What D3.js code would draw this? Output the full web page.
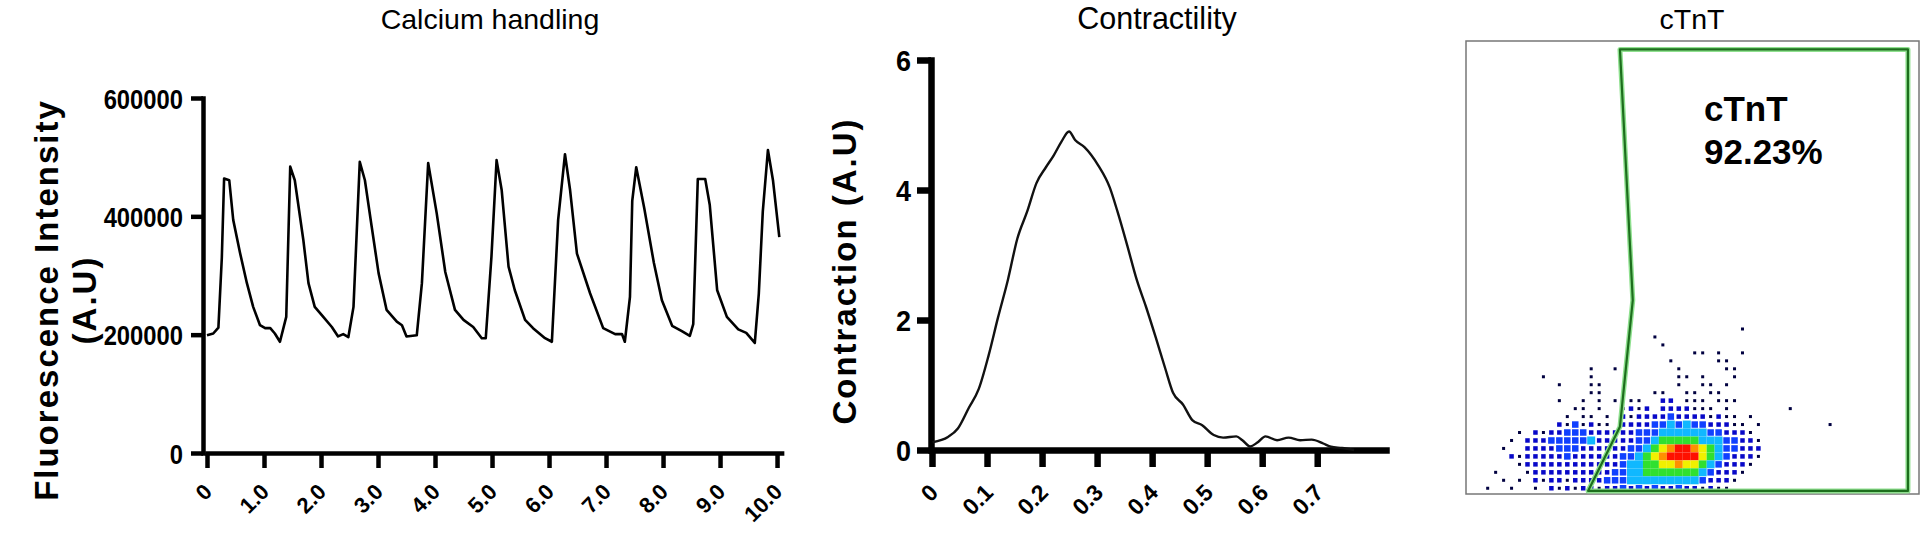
<!DOCTYPE html>
<html><head><meta charset="utf-8">
<script src="https://cdn.jsdelivr.net/npm/d3@7"></script>
<style>
body{margin:0;background:#fff;}
svg{display:block;}
text{font-family:"Liberation Sans",Arial,Helvetica,sans-serif;fill:#000;}
</style></head><body>
<svg id="c" width="1920" height="533"></svg>
<script>
// ---------------- DATA ----------------
const panelTitles = ["Calcium handling", "Contractility", "cTnT"];

// Calcium handling trace (time in s, fluorescence A.U)
const caTime = [0.00,0.11,0.20,0.26,0.30,0.39,0.46,0.58,0.70,0.81,0.93,1.02,1.11,1.19,1.28,1.39,1.46,1.54,1.69,1.78,1.89,2.04,2.19,2.30,2.39,2.48,2.57,2.68,2.77,2.89,3.01,3.15,3.33,3.42,3.50,3.68,3.77,3.88,4.03,4.18,4.35,4.50,4.67,4.82,4.89,4.99,5.08,5.17,5.29,5.40,5.58,5.72,5.93,6.05,6.16,6.28,6.37,6.49,6.72,6.95,7.16,7.28,7.33,7.42,7.46,7.53,7.67,7.84,7.98,8.16,8.33,8.47,8.53,8.61,8.74,8.82,8.95,9.12,9.32,9.46,9.61,9.68,9.75,9.84,9.93,10.04];
const caValue = [199000,202000,212000,330000,464000,461000,394000,338000,287000,247000,216000,211000,211000,202000,188000,230000,484000,461000,360000,287000,247000,230000,213000,197000,201000,196000,247000,492000,461000,382000,304000,242000,222000,216000,197000,199000,287000,490000,405000,306000,242000,225000,213000,194000,194000,332000,495000,444000,315000,275000,225000,211000,194000,188000,394000,505000,444000,337000,270000,211000,201000,201000,188000,264000,426000,483000,414000,321000,258000,215000,206000,198000,218000,463000,463000,419000,275000,230000,209000,203000,186000,269000,408000,512000,460000,365000];
const caXTicks = [0,1,2,3,4,5,6,7,8,9,10];
const caXTickLabels = ["0","1.0","2.0","3.0","4.0","5.0","6.0","7.0","8.0","9.0","10.0"];
const caYTicks = [0,200000,400000,600000];
const caYTitle = ["Fluorescence Intensity", "(A.U)"];

// Contractility trace
const ctTime = [0.001,0.029,0.047,0.067,0.085,0.103,0.12,0.138,0.155,0.173,0.19,0.207,0.221,0.235,0.249,0.26,0.277,0.302,0.323,0.337,0.355,0.372,0.389,0.407,0.424,0.438,0.456,0.473,0.491,0.512,0.529,0.553,0.564,0.578,0.592,0.606,0.627,0.648,0.669,0.69,0.711,0.725,0.745,0.767];
const ctValue = [0.12,0.20,0.33,0.65,0.94,1.46,2.04,2.62,3.25,3.67,4.11,4.35,4.53,4.74,4.90,4.77,4.66,4.38,4.04,3.67,3.14,2.62,2.20,1.72,1.25,0.88,0.70,0.46,0.38,0.23,0.19,0.21,0.15,0.055,0.12,0.21,0.15,0.19,0.15,0.16,0.10,0.05,0.03,0.00];
const ctXTicks = [0,0.1,0.2,0.3,0.4,0.5,0.6,0.7];
const ctXTickLabels = ["0","0.1","0.2","0.3","0.4","0.5","0.6","0.7"];
const ctYTicks = [0,2,4,6];
const ctYTitle = "Contraction (A.U)";

// Flow cytometry (channel units 0-1024)
const gateX = [348, 999, 999, 276, 348, 377];
const gateY = [1005, 1005, 7, 7, 152, 438];
const gateLabel = ["cTnT", "92.23%"];
const densityBinSize = 18;       // channels per bin
const densityOrigin = [4, 4];    // channel of first bin (x, y)
// density map rows, top (high channel) to bottom; '-' empty, '.' sparse event,
// b = low, B = medium, c = cyan, g = green, y = yellow, o = orange, r = red
const densityRows = [
"----------|----------|----------|----------|-------",
"----------|----------|----------|----.-----|-------",
"----------|----------|---.------|----------|-------",
"----------|----------|----.-----|----------|-------",
"----------|----------|--------..|-.--.-----|-------",
"----------|----------|-----.----|-..-------|-------",
"----------|-----.--.-|------.---|--..------|-------",
"---------.|-----.----|------..-.|---.------|-------",
"----------|-.---..---|------.--.|.-.-------|-------",
"----------|-----..---|---..--..-|..--------|-------",
"----------|-.--.-.-..|..--bb-...|-...------|-------",
"----------|---..-.--.|b.b-bbbb..|.-.-------|.------",
"----------|--.-..-.-b|.bbbbBbbbb|.b..-.----|-------",
"----------|-b.B.b..-b|bbbBBcBcBB|bbb..-.---|-----.-",
"------.-b.|bbBBBbbbbb|bBBBcccccc|BBbbb.----|-------",
"-----.-bbb|BBBBBcbbbb|bBBcgggggc|ccBBbb.---|-------",
"----.--bbb|bBBBbbbbbb|BBcgyorroy|gcBBbbb---|-------",
"-----b.bbb|bbBbbbbbbB|Bcgyorrrry|gcBbbb.---|-------",
"------.bbb|bbbbbbbbbB|ccggyyoyyg|cBbbb.----|-------",
"---.---.bb|bbbbbbbbBB|ccgggggggc|Bbbb.-----|-------",
"----.-.-b.|bb.bbbbBBB|cccccccccB|bbb.------|-------",
"--.--.--.-|b.b.bb.bbB|bBbBbbBbb.|b..-------|-------"
];
const densityColors = {".":"#000040","b":"#0808c8","B":"#1040ff","c":"#10b8ff","g":"#30e030","y":"#f0f000","o":"#ff9000","r":"#ff1000"};
const densityDotSize = {".":3,"b":4.5,"B":6.5};

// ---------------- DRAW ----------------
const svg = d3.select("#c");
svg.append("rect").attr("width",1920).attr("height",533).attr("fill","#fff");

// ===== Calcium handling =====
{
  const x = d3.scaleLinear().domain([0, 10.08]).range([207, 781.6]);
  const y = d3.scaleLinear().domain([0, 600000]).range([453, 98]);
  const g = svg.append("g");
  g.append("text").attr("x",490).attr("y",29).attr("text-anchor","middle")
    .style("font-size","28.5px").text(panelTitles[0]);

  const yAx = g.append("g").attr("transform","translate(203,0)")
    .call(d3.axisLeft(y).tickValues(caYTicks).tickSize(12).tickSizeOuter(0).tickFormat(d3.format("d")));
  const xAx = g.append("g").attr("transform","translate(0,453)")
    .call(d3.axisBottom(x).tickValues(caXTicks).tickSize(15).tickSizeOuter(0).tickFormat((d,i)=>caXTickLabels[i]));
  [yAx,xAx].forEach(a=>{
    a.select(".domain").attr("stroke","#000").attr("stroke-width",4.5).attr("stroke-linecap","square");
    a.selectAll(".tick line").attr("stroke","#000").attr("stroke-width",4.5);
  });
  yAx.selectAll(".tick text").attr("x",0).attr("dy","0.36em")
    .attr("transform","translate(-20,0) scale(0.85,1)")
    .style("font-size","28px").style("font-weight","bold");
  xAx.selectAll(".tick text").attr("x",0).attr("y",0).attr("dy",0)
    .attr("text-anchor","end").attr("transform","translate(6,40) rotate(-45)")
    .style("font-size","22px").style("font-weight","bold");

  const line = d3.line().x((d,i)=>x(caTime[i])).y((d,i)=>y(caValue[i]));
  g.append("path").datum(caValue).attr("d",line).attr("fill","none")
    .attr("stroke","#000").attr("stroke-width",2.6).attr("stroke-linejoin","round");

  g.append("text").attr("transform","translate(58,300) rotate(-90)").attr("text-anchor","middle")
    .style("font-size","33px").style("font-weight","bold").style("letter-spacing","2px").text(caYTitle[0]);
  g.append("text").attr("transform","translate(96,300) rotate(-90)").attr("text-anchor","middle")
    .style("font-size","33px").style("font-weight","bold").style("letter-spacing","2px").text(caYTitle[1]);
}

// ===== Contractility =====
{
  const x = d3.scaleLinear().domain([0, 0.825]).range([932, 1386]);
  const y = d3.scaleLinear().domain([0, 6]).range([450, 60]);
  const g = svg.append("g");
  g.append("text").attr("x",1157).attr("y",29).attr("text-anchor","middle")
    .style("font-size","30.5px").text(panelTitles[1]);

  const yAx = g.append("g").attr("transform","translate(931,0)")
    .call(d3.axisLeft(y).tickValues(ctYTicks).tickSize(14).tickSizeOuter(0).tickFormat(d3.format("d")));
  const xAx = g.append("g").attr("transform","translate(0,450)")
    .call(d3.axisBottom(x).tickValues(ctXTicks).tickSize(17).tickSizeOuter(0).tickFormat((d,i)=>ctXTickLabels[i]));
  [yAx,xAx].forEach(a=>{
    a.select(".domain").attr("stroke","#000").attr("stroke-width",6.5).attr("stroke-linecap","square");
    a.selectAll(".tick line").attr("stroke","#000").attr("stroke-width",6.5);
  });
  yAx.selectAll(".tick text").attr("x",0).attr("dy","0.36em")
    .attr("transform","translate(-20,0) scale(0.9,1)")
    .style("font-size","30px").style("font-weight","bold");
  xAx.selectAll(".tick text").attr("x",0).attr("y",0).attr("dy",0)
    .attr("text-anchor","end").attr("transform","translate(7,44) rotate(-45)")
    .style("font-size","23px").style("font-weight","bold");

  const line = d3.line().curve(d3.curveMonotoneX).x((d,i)=>x(ctTime[i])).y((d,i)=>y(ctValue[i]));
  g.append("path").datum(ctValue).attr("d",line).attr("fill","none")
    .attr("stroke","#111").attr("stroke-width",2.4).attr("stroke-linejoin","round");

  g.append("text").attr("transform","translate(856,271) rotate(-90)").attr("text-anchor","middle")
    .style("font-size","33px").style("font-weight","bold").style("letter-spacing","2px").text(ctYTitle);
}

// ===== Flow cytometry cTnT =====
{
  const x = d3.scaleLinear().domain([0, 1024]).range([1466, 1919]);
  const y = d3.scaleLinear().domain([0, 1024]).range([494, 41]);
  const g = svg.append("g");
  g.append("text").attr("x",1692).attr("y",29).attr("text-anchor","middle")
    .style("font-size","28.5px").text(panelTitles[2]);

  // density cells
  const rows = densityRows.map(r=>r.replace(/\|/g,""));
  const nRows = rows.length;
  const cells = [];
  rows.forEach((r,ri)=>{
    const k = nRows-1-ri;
    for (let c=0;c<r.length;c++){
      const ch = r[c];
      if (ch!=="-") cells.push({ch, x0: densityOrigin[0]+c*densityBinSize, y0: densityOrigin[1]+k*densityBinSize});
    }
  });
  const bw = x(densityBinSize)-x(0), bh = y(0)-y(densityBinSize);
  const sz = d => densityDotSize[d.ch] || bw;
  g.selectAll("rect.cell").data(cells).join("rect").attr("class","cell")
    .attr("x",d=> x(d.x0)+bw/2-sz(d)/2)
    .attr("y",d=> y(d.y0+densityBinSize)+bh/2-sz(d)/2)
    .attr("width",d=> sz(d))
    .attr("height",d=> sz(d))
    .attr("fill",d=>densityColors[d.ch]);

  // frame
  g.append("rect").attr("x",x(0)).attr("y",y(1024)).attr("width",x(1024)-x(0)).attr("height",y(0)-y(1024))
    .attr("fill","none").attr("stroke","#777").attr("stroke-width",1.5);

  // gate
  const pts = gateX.map((v,i)=>[x(v), y(gateY[i])]);
  const gl = d3.line().curve(d3.curveLinearClosed);
  g.append("path").attr("d",gl(pts)).attr("fill","none").attr("stroke","#8fe08f").attr("stroke-width",5).attr("stroke-linejoin","round");
  g.append("path").attr("d",gl(pts)).attr("fill","none").attr("stroke","#1d6e1d").attr("stroke-width",2.2).attr("stroke-linejoin","round");

  g.append("text").attr("x",1704).attr("y",121).style("font-size","35px").style("font-weight","bold").text(gateLabel[0]);
  g.append("text").attr("x",1704).attr("y",164).style("font-size","35px").style("font-weight","bold").text(gateLabel[1]);
}
</script>
</body></html>
